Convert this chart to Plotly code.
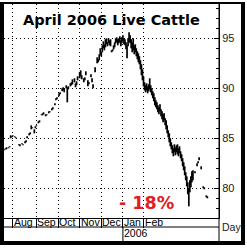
import plotly.graph_objects as go

# ---------------- data ----------------
start_idx = -8  # trading-day index of first entry (0 = first trading day of Aug 2005)
low = [
    83.8, 83.9, 83.9, None, 84.0, 84.1, 85.0, 85.1, 85.2, None,   # -8..1
    85.1, 85.0, None, None, 84.3, 84.2, None, 84.4, 84.3, None,   # 2..11
    84.5, 84.6, 85.0, None, 85.3, 85.4, 85.9, 86.0, None, 85.5,   # 12..21
    86.0, 86.2, None, 86.5, 86.6, None, 87.3, 87.3, 87.4, None,   # 22..31
    87.2, 87.3, None, 87.5, 87.6, None, 87.8, 87.9, None, 88.3,   # 32..41
    88.8, 88.9, None, 89.2, 89.4, None, 89.7, 89.8, 89.6, None,   # 42..51
    90.0, 88.6, 89.9, None, 90.2, 90.3, 90.4, None, 90.6, 90.1,   # 52..61
    90.3, 90.8, None, 91.0, 91.2, 90.9, None, 90.6, 90.8, 91.3,   # 62..71
    None, 90.2, 90.4, None, 91.1, 90.6, 90.0, None, 91.6, None,   # 72..81
    92.5, 92.6, 92.8, 93.3, 93.2, 93.6, 94.0, 93.8, 94.1, 94.4,   # 82..91
    94.2, 94.5, 94.3, 94.2, 93.6, 93.7, 93.9, 94.1, 94.5, 94.6,   # 92..101
    94.3, 94.5, 94.6, 94.2, 94.5, 94.7, 94.4, 94.3, 93.9, 93.0,   # 102..111
    94.2, 94.6, 94.5, 94.0, 93.6, 93.8, 93.4, 93.6, 93.2, 92.9,   # 112..121
    92.6, 92.4, 91.9, 91.3, 90.8, 90.2, 89.8, 89.6, 89.8, 89.5,   # 122..131
    89.7, 89.9, 89.6, 89.3, 89.0, 88.7, 88.3, 88.1, 87.9, 87.6,   # 132..141
    87.4, 87.7, 87.2, 86.9, 86.6, 86.8, 86.3, 85.9, 85.5, 85.1,   # 142..151
    84.6, 84.2, 83.9, 83.5, 83.2, 83.6, 83.3, 83.6, 83.4, 83.2,   # 152..161
    83.5, 83.0, 82.7, 82.2, 81.8, 81.3, 80.8, 80.2, 79.4, 78.2,   # 162..171
    79.6, 80.1, 80.6, 80.8, None, 81.5, None, 82.2, 82.5, 82.8,   # 172..181
    None, 81.9, None, 80.0, 79.9, None, 79.1, 79.0,               # 182..189
]
high = [
    83.9, 84.0, 84.1, None, 84.1, 84.2, 85.3, 85.2, 85.3, None,
    85.2, 85.1, None, None, 84.4, 84.4, None, 84.5, 84.4, None,
    84.7, 84.8, 85.2, None, 85.5, 85.6, 86.3, 86.1, None, 85.9,
    86.2, 86.3, None, 86.7, 86.8, None, 87.4, 87.5, 87.6, None,
    87.4, 87.4, None, 87.7, 87.7, None, 88.0, 88.1, None, 88.5,
    89.0, 89.1, None, 89.5, 89.6, None, 90.0, 90.1, 90.0, None,
    90.3, 90.1, 90.2, None, 90.5, 90.6, 90.9, None, 91.0, 90.5,
    90.7, 91.2, None, 91.6, 91.8, 91.3, None, 91.0, 91.1, 91.7,
    None, 90.8, 90.6, None, 91.4, 91.0, 90.4, None, 92.1, None,
    93.1, 92.9, 93.4, 94.0, 93.6, 94.3, 94.7, 94.4, 94.9, 95.0,
    94.6, 95.0, 94.8, 94.9, 93.8, 93.9, 94.3, 94.6, 95.0, 95.1,
    94.9, 95.0, 95.2, 94.8, 95.1, 95.3, 95.0, 94.9, 94.6, 94.3,
    95.0, 95.6, 95.3, 94.9, 94.6, 95.0, 94.3, 94.4, 94.0, 93.7,
    93.5, 93.2, 92.8, 92.4, 91.9, 91.2, 90.6, 90.3, 90.5, 90.2,
    90.4, 91.0, 90.3, 90.0, 89.7, 89.5, 89.1, 88.8, 88.6, 88.3,
    88.1, 88.4, 87.9, 87.7, 87.4, 87.5, 87.0, 86.8, 86.3, 85.8,
    85.5, 85.0, 84.6, 84.3, 84.0, 84.4, 84.1, 84.3, 84.4, 84.0,
    84.2, 83.7, 83.4, 83.0, 82.6, 82.2, 81.6, 81.2, 80.6, 80.0,
    80.8, 81.2, 81.7, 81.8, None, 81.7, None, 82.5, 82.7, 83.1,
    None, 82.2, None, 80.2, 80.1, None, 79.3, 79.2,
]
month_labels = ["Aug", "Sep", "Oct", "Nov", "Dec", "Jan", "Feb"]
month_start = [0, 23, 44, 65, 86, 107, 127]
year_label = "2006"
year_start = 107
price_ticks = [80, 85, 90, 95]
minor_ticks = list(range(78, 99))
title_text = "April 2006 Live Cattle"
change_text = "- 18%"

# ---------------- geometry helpers ----------------
W, H = 247, 248
PL, PR, PT, PB = 4, 219, 4, 218


def pxx(px):
    return (px - PL) / (PR - PL)


def pxy(py):
    return (PB - py) / (PB - PT)


# build high-low segments
xs, ys = [], []
for i, (lo, hi) in enumerate(zip(low, high)):
    if lo is None or hi is None:
        continue
    d = start_idx + i
    xs += [d, d, None]
    ys += [lo, hi, None]

fig = go.Figure()
fig.add_trace(go.Scatter(x=xs, y=ys, mode="lines",
                         line=dict(color="black", width=1.7),
                         hoverinfo="skip", showlegend=False))

SANS = "Liberation Sans"

fig.update_layout(
    width=W, height=H,
    margin=dict(l=PL, r=W - PR, t=PT, b=H - PB, pad=0),
    paper_bgcolor="white", plot_bgcolor="white",
    showlegend=False,
    xaxis=dict(range=[-8.45, 200.3], tickvals=month_start, ticktext=[""] * len(month_start),
               showgrid=True, gridcolor="black", gridwidth=1, griddash="1px,3px",
               zeroline=False, showline=True, linecolor="black", linewidth=1,
               ticks="outside", ticklen=9, tickcolor="black", tickwidth=1,
               fixedrange=True),
    yaxis=dict(range=[77.03, 98.43], side="right", tickvals=price_ticks,
               ticktext=[str(v) for v in price_ticks],
               showgrid=True, gridcolor="black", gridwidth=1, griddash="1px,3px",
               zeroline=False, showline=True, linecolor="black", linewidth=1,
               ticks="inside", ticklen=5, tickcolor="black",
               minor=dict(tickvals=minor_ticks, ticks="inside", ticklen=3,
                          tickcolor="black", showgrid=False),
               tickfont=dict(family=SANS, size=11, color="#222"),
               fixedrange=True),
)

shapes = []
blk = dict(color="black", width=1)
# month row bottom line
shapes.append(dict(type="line", xref="paper", yref="paper",
                   x0=0, x1=1, y0=pxy(227), y1=pxy(227), line=blk))
# year separator extension
shapes.append(dict(type="line", xref="x", yref="paper",
                   x0=year_start, x1=year_start, y0=pxy(227), y1=pxy(241), line=blk))
# right axis line through the whole frame
shapes.append(dict(type="line", xref="paper", yref="paper",
                   x0=1, x1=1, y0=pxy(3), y1=pxy(241), line=blk))
# outer frame (thick)
for (x0, y0, x1, y1) in [(0, 2, 4, 245), (0, 2, 245, 4), (241, 2, 245, 245), (0, 241, 245, 245)]:
    shapes.append(dict(type="rect", xref="paper", yref="paper",
                       x0=pxx(x0), x1=pxx(x1), y0=pxy(y0), y1=pxy(y1),
                       fillcolor="black", line=dict(width=0), layer="above"))
fig.update_layout(shapes=shapes)

ann = []
ann.append(dict(text=title_text, xref="paper", yref="paper", x=pxx(111), y=pxy(20),
                xanchor="center", yanchor="middle", showarrow=False,
                font=dict(family="DejaVu Sans", size=14.5, color="black", weight="bold")))
ann.append(dict(text=change_text, xref="paper", yref="paper", x=pxx(146.5), y=pxy(203),
                xanchor="center", yanchor="middle", showarrow=False,
                font=dict(family="DejaVu Sans", size=17.5, color="#e02020", weight="bold")))
for lab, s in zip(month_labels, month_start):
    ann.append(dict(text=lab, xref="x", yref="paper", x=s, y=pxy(222.5),
                    xanchor="left", yanchor="middle", showarrow=False, xshift=0,
                    borderpad=0, font=dict(family=SANS, size=10.5, color="black")))
ann.append(dict(text=year_label, xref="x", yref="paper", x=year_start, y=pxy(233),
                xanchor="left", yanchor="middle", showarrow=False, borderpad=0,
                font=dict(family=SANS, size=10.5, color="black")))
ann.append(dict(text="Day", xref="paper", yref="paper", x=pxx(221), y=pxy(227),
                xanchor="left", yanchor="middle", showarrow=False, borderpad=0,
                font=dict(family=SANS, size=10.5, color="#222")))
fig.update_layout(annotations=ann)

fig.write_html("out.html", config={"displayModeBar": False})
